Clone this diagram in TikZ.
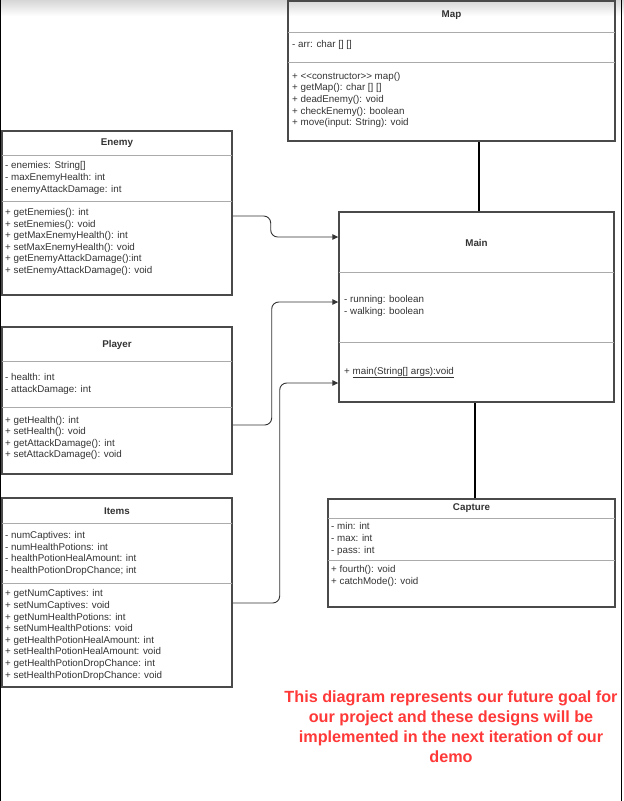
\documentclass[tikz,border=0pt]{standalone}
\usepackage{fontspec}
\setmainfont{Liberation Sans}
\usetikzlibrary{arrows.meta,positioning}
\definecolor{Ink}{HTML}{333333}
\definecolor{Frame}{HTML}{4A4A4A}
\definecolor{Rule}{HTML}{ABABAB}
\definecolor{Alert}{HTML}{FF3838}
\tikzset{
  classbox/.style={draw=Frame,line width=1.4pt,inner sep=0pt},
  divider/.style={draw=Rule,line width=0.9pt},
  cname/.style={font=\fontsize{9.8}{11.6}\selectfont\bfseries,text=Ink,inner sep=0pt},
  members/.style={font=\fontsize{9.8}{11.6}\selectfont,text=Ink,align=left,anchor=west,inner sep=0pt},
  link/.style={-{Triangle[length=6pt,width=5.5pt]},draw=Ink,line width=0.9pt,rounded corners=7pt},
  assoc/.style={draw=black,line width=1.8pt},
  note/.style={font=\fontsize{16.2}{20}\selectfont\bfseries,text=Alert,align=center,inner sep=0pt}
}

\begin{document}
\begin{tikzpicture}[x=1pt,y=-1pt]
  \useasboundingbox (0,0) rectangle (624,801);
  % screenshot edges
  \shade[top color=black!16,bottom color=white] (0,0) rectangle (624,16);
  \draw[black,line width=1.4pt] (0.7,0) -- (0.7,801);
  \draw[black,line width=1.4pt] (621.7,0) -- (621.7,801);

  % Map
  \node[classbox,minimum width=327pt,minimum height=140pt] (map) at (451.5,71) {};
  \draw[divider] (288,32) -- (615,32);
  \draw[divider] (288,62) -- (615,62);
  \node[cname] (mapName) at (451.5,15) {Map};
  \node[members] (mapAttr) at (292,45) {- arr: char [] []};
  \node[members] (mapOps) at (292,100) {+ <\kern0pt<constructor>\kern0pt> map()\\+ getMap(): char [] []\\+ deadEnemy(): void\\+ checkEnemy(): boolean\\+ move(input: String): void};

  % Enemy
  \node[classbox,minimum width=230pt,minimum height=164pt] (enemy) at (117,213) {};
  \draw[divider] (2,155) -- (232,155);
  \draw[divider] (2,201) -- (232,201);
  \node[cname] (enemyName) at (117,143) {Enemy};
  \node[members] (enemyAttr) at (5,178) {- enemies: String[]\\- maxEnemyHealth: int\\- enemyAttackDamage: int};
  \node[members] (enemyOps) at (5,242) {+ getEnemies(): int\\+ setEnemies(): void\\+ getMaxEnemyHealth(): int\\+ setMaxEnemyHealth(): void\\+ getEnemyAttackDamage():int\\+ setEnemyAttackDamage(): void};

  % Player
  \node[classbox,minimum width=230pt,minimum height=147pt] (player) at (117,400.5) {};
  \draw[divider] (2,361) -- (232,361);
  \draw[divider] (2,407) -- (232,407);
  \node[cname] (playerName) at (117,345) {Player};
  \node[members] (playerAttr) at (5,384) {- health: int\\- attackDamage: int};
  \node[members] (playerOps) at (5,438) {+ getHealth(): int\\+ setHealth(): void\\+ getAttackDamage(): int\\+ setAttackDamage(): void};

  % Items
  \node[classbox,minimum width=230pt,minimum height=189pt] (items) at (117,592.5) {};
  \draw[divider] (2,523) -- (232,523);
  \draw[divider] (2,583) -- (232,583);
  \node[cname] (itemsName) at (117,511) {Items};
  \node[members] (itemsAttr) at (5,553.5) {- numCaptives: int\\- numHealthPotions: int\\- healthPotionHealAmount: int\\- healthPotionDropChance; int};
  \node[members] (itemsOps) at (5,635) {+ getNumCaptives: int\\+ setNumCaptives: void\\+ getNumHealthPotions: int\\+ setNumHealthPotions: void\\+ getHealthPotionHealAmount: int\\+ setHealthPotionHealAmount: void\\+ getHealthPotionDropChance: int\\+ setHealthPotionDropChance: void};

  % Main
  \node[classbox,minimum width=275pt,minimum height=190pt] (main) at (476.5,307) {};
  \draw[divider] (339,272) -- (614,272);
  \draw[divider] (339,342) -- (614,342);
  \node[cname] (mainName) at (476.5,243) {Main};
  \node[members] (mainAttr) at (344,306) {- running: boolean\\- walking: boolean};
  \node[members] (mainOps) at (344,372.5) {+ \underline{main(String[] args):void}};

  % Capture
  \node[classbox,minimum width=287pt,minimum height=108pt] (capture) at (471.5,553) {};
  \draw[divider] (328,518) -- (615,518);
  \draw[divider] (328,560) -- (615,560);
  \node[cname] (captureName) at (471.5,508) {Capture};
  \node[members] (captureAttr) at (331,539) {- min: int\\- max: int\\- pass: int};
  \node[members] (captureOps) at (331,576) {+ fourth(): void\\+ catchMode(): void};

  % connectors
  \draw[link] ([yshift=-3pt]enemy.east) -- ++(38,0) |- ([yshift=70pt]main.west);
  \draw[link] ([yshift=-24.5pt]player.east) -- ++(39,0) |- ([yshift=5pt]main.west);
  \draw[link] ([yshift=-10.5pt]items.east) -- ++(47,0) |- ([yshift=-76pt]main.west);
  \coordinate (mapLink) at ([xshift=2.5pt]main.north);
  \draw[assoc] (mapLink) -- (mapLink |- map.south);
  \coordinate (captureLink) at ([xshift=3.5pt]capture.north);
  \draw[assoc] (captureLink) -- (captureLink |- main.south);

  \node[note] (goal) at (451,727) {This diagram represents our future goal for\\our project and these designs will be\\implemented in the next iteration of our\\demo};
\end{tikzpicture}
\end{document}
